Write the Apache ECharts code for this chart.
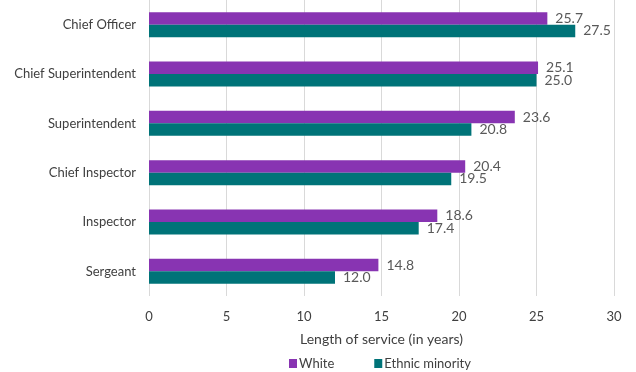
<!DOCTYPE html>
<html>
<head>
<meta charset="utf-8">
<script src="https://cdn.jsdelivr.net/npm/echarts@6/dist/echarts.min.js"></script>
<style>
  html, body { margin: 0; padding: 0; background: #fff; }
  #chart { width: 636px; height: 372px; }
</style>
</head>
<body>
<div id="chart"></div>
<script>
// Ranks, listed top to bottom
const ranks = ['Chief Officer', 'Chief Superintendent', 'Superintendent', 'Chief Inspector', 'Inspector', 'Sergeant'];
// Average length of service in years
const whiteYears = [25.7, 25.1, 23.6, 20.4, 18.6, 14.8];
const ethnicMinorityYears = [27.5, 25.0, 20.8, 19.5, 17.4, 12.0];
const seriesNames = ['White', 'Ethnic minority'];

const FONT = 'Lato, "Open Sans", sans-serif';

const chart = echarts.init(document.getElementById('chart'), null, { renderer: 'canvas' });

const labelStyle = {
  show: true,
  position: 'right',
  distance: 8,
  color: '#595959',
  fontSize: 14,
  fontFamily: FONT,
  formatter: p => p.value.toFixed(1)
};

chart.setOption({
  animation: false,
  textStyle: { fontFamily: FONT },
  grid: { left: 149, right: 22, top: 0, height: 296, containLabel: false },
  xAxis: {
    type: 'value',
    min: 0,
    max: 30,
    interval: 5,
    name: 'Length of service (in years)',
    nameLocation: 'middle',
    nameGap: 36,
    nameTextStyle: { color: '#404040', fontSize: 14, fontFamily: FONT },
    axisLine: { show: false },
    axisTick: { show: false },
    axisLabel: { color: '#404040', fontSize: 13, margin: 14, fontFamily: FONT },
    splitLine: { show: true, lineStyle: { color: '#d9d9d9', width: 1 } }
  },
  yAxis: {
    type: 'category',
    data: ranks,
    inverse: true,
    axisLine: { show: false },
    axisTick: { show: false },
    axisLabel: { color: '#404040', fontSize: 13, margin: 13, fontFamily: FONT }
  },
  legend: {
    top: 352,
    left: 284,
    icon: 'rect',
    itemWidth: 8,
    itemHeight: 9,
    itemGap: 40,
    textStyle: { color: '#404040', fontSize: 13, fontFamily: FONT, padding: [0, 0, 0, -3] },
    data: seriesNames
  },
  series: [
    {
      name: seriesNames[0],
      type: 'bar',
      data: whiteYears,
      barWidth: 12.5,
      barGap: '0%',
      itemStyle: { color: '#8834b2' },
      label: labelStyle
    },
    {
      name: seriesNames[1],
      type: 'bar',
      data: ethnicMinorityYears,
      barWidth: 12.5,
      barGap: '0%',
      itemStyle: { color: '#007378' },
      label: labelStyle
    }
  ]
});
</script>
</body>
</html>
